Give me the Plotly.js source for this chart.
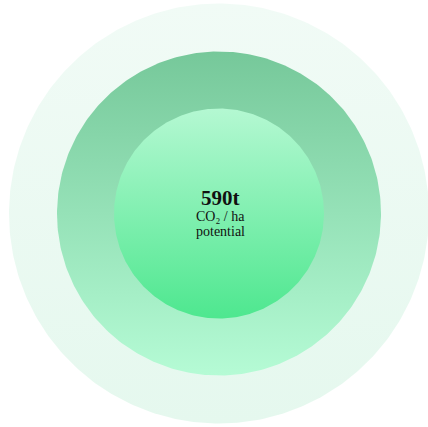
<!DOCTYPE html>
<html>
<head>
<meta charset="utf-8">
<script src="https://cdn.plot.ly/plotly-3.0.1.min.js"></script>
<style>html,body{margin:0;padding:0;background:#fff;}#chart{width:428px;height:427px;}</style>
</head>
<body>
<div id="chart"></div>
<script>
// Data
const rings = ['outer', 'middle', 'inner'];
const ringRadius = [210, 162, 105];
const headline = '590t';
const subLines = ['CO₂ / ha', 'potential'];

// Styles (bottom color, top color)
const ringColors = [
  ['#e5f8ee', '#f1fbf6'],
  ['#b5fbd5', '#76c89a'],
  ['#4ee78f', '#b4f8d2']
];
const cx = 219, cy = 213.5;

function circle(r) {
  const xs = [], ys = [];
  for (let i = 0; i <= 360; i++) {
    const a = i * Math.PI / 180;
    xs.push(cx + r * Math.cos(a));
    ys.push(cy + r * Math.sin(a));
  }
  return {xs, ys};
}

const traces = rings.map((name, i) => {
  const c = circle(ringRadius[i]);
  return {
    type: 'scatter', mode: 'lines', name: name,
    x: c.xs, y: c.ys,
    fill: 'toself',
    line: {width: 0, color: 'rgba(0,0,0,0)'},
    fillgradient: {type: 'vertical', colorscale: [[0, ringColors[i][0]], [1, ringColors[i][1]]]},
    hoverinfo: 'skip', showlegend: false
  };
});

const layout = {
  width: 428, height: 427,
  margin: {l: 0, r: 0, t: 0, b: 0},
  paper_bgcolor: '#ffffff', plot_bgcolor: '#ffffff',
  xaxis: {range: [0, 428], visible: false, fixedrange: true},
  yaxis: {range: [0, 427], visible: false, fixedrange: true},
  showlegend: false,
  annotations: [
    {x: cx + 1, y: 427 - 198, xref: 'x', yref: 'y', text: '<b>' + headline + '</b>', showarrow: false,
     font: {family: 'Liberation Serif, serif', size: 21, color: '#111'}},
    {x: cx + 1, y: 427 - 216, xref: 'x', yref: 'y', text: subLines[0], showarrow: false,
     font: {family: 'Liberation Serif, serif', size: 14, color: '#111'}},
    {x: cx + 1, y: 427 - 231, xref: 'x', yref: 'y', text: subLines[1], showarrow: false,
     font: {family: 'Liberation Serif, serif', size: 14, color: '#111'}}
  ]
};

Plotly.newPlot('chart', traces, layout, {displayModeBar: false, staticPlot: true});
</script>
</body>
</html>
